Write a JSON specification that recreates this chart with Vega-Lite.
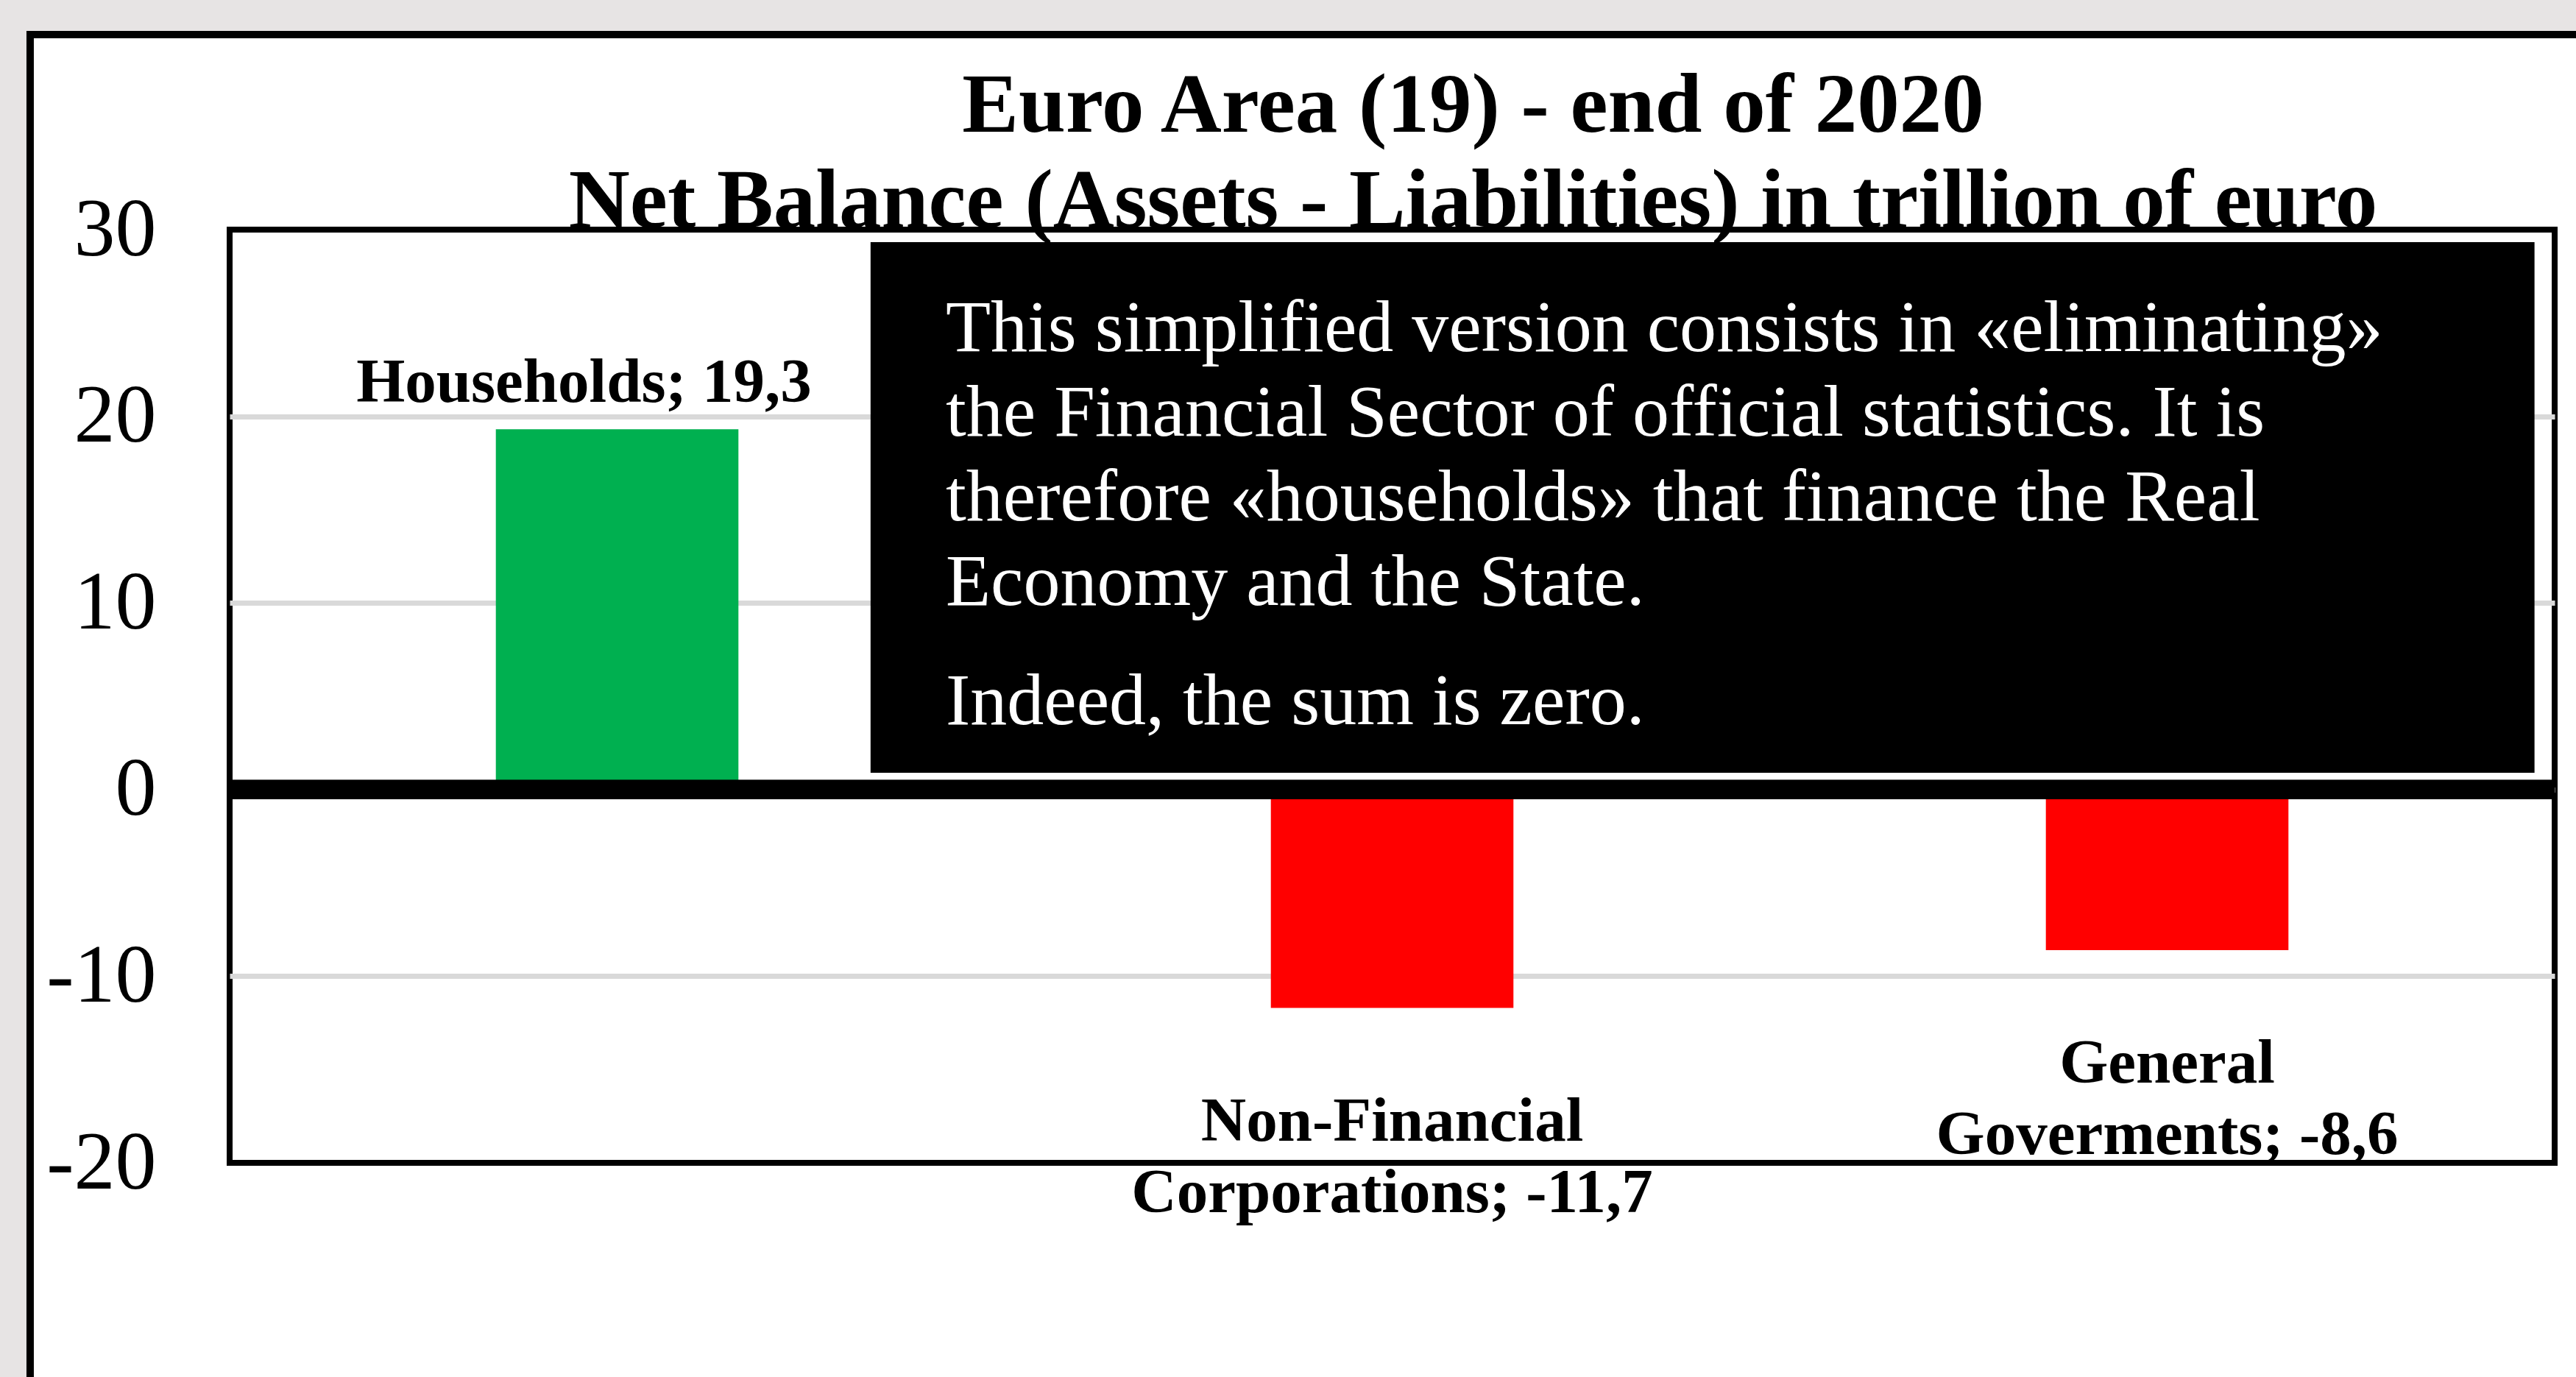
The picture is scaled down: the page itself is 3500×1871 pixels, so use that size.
{
  "$schema": "https://vega.github.io/schema/vega-lite/v6.json",
  "width": 3159,
  "height": 1268,
  "autosize": "none",
  "padding": {"left": 312, "top": 312, "right": 29, "bottom": 291},
  "background": "white",
  "title": {
    "text": ["Euro Area (19) - end of 2020", "Net Balance (Assets - Liabilities) in trillion of euro"],
    "font": "Liberation Serif",
    "fontSize": 115,
    "fontWeight": "bold",
    "color": "black",
    "anchor": "middle",
    "frame": "group",
    "dx": 110,
    "lineHeight": 130,
    "baseline": "alphabetic",
    "offset": -462
  },
  "data": {
    "values": [
      {"sector": "Households", "value": 19.3, "label": "Households; 19,3"},
      {"sector": "Non-Financial Corporations", "value": -11.7, "label": "Non-Financial|Corporations; -11,7"},
      {"sector": "General Goverments", "value": -8.6, "label": "General|Goverments; -8,6"}
    ]
  },
  "layer": [
    {
      "data": {"values": [{}]},
      "mark": {"type": "rect", "fill": null, "stroke": "#e7e4e4", "strokeWidth": 80},
      "encoding": {
        "x": {"datum": -0.3001, "type": "quantitative", "scale": {"domain": [0, 3]}, "axis": null},
        "x2": {"datum": 3.6},
        "y": {"datum": 42.22, "type": "quantitative"},
        "y2": {"datum": -45}
      }
    },
    {
      "data": {"values": [{}]},
      "mark": {"type": "rect", "fill": null, "stroke": "black", "strokeWidth": 10},
      "encoding": {
        "x": {"datum": -0.2574, "type": "quantitative", "scale": {"domain": [0, 3]}, "axis": null},
        "x2": {"datum": 3.5},
        "y": {"datum": 40.45, "type": "quantitative"},
        "y2": {"datum": -40}
      }
    },
    {
      "mark": {"type": "bar", "width": {"band": 0.313}},
      "encoding": {
        "x": {"field": "sector", "type": "nominal", "sort": null, "scale": {"domain": ["Households", "Non-Financial Corporations", "General Goverments"], "paddingInner": 0, "paddingOuter": 0}, "axis": null},
        "y": {
          "field": "value",
          "type": "quantitative",
          "scale": {"domain": [-20, 30], "nice": false, "zero": false},
          "axis": {
            "title": null,
            "values": [-20, -10, 0, 10, 20, 30],
            "labelExpr": "'' + datum.value",
            "domain": false,
            "ticks": false,
            "tickSize": 0,
            "labelPadding": 100,
            "labelFont": "Liberation Serif",
            "labelFontSize": 112,
            "labelColor": "black",
            "labelOverlap": false,
            "grid": true,
            "gridColor": {"condition": {"test": "datum.value == 30 || datum.value == -20", "value": "transparent"}, "value": "#d9d9d9"},
            "gridWidth": 7
          }
        },
        "y2": {"datum": 0},
        "color": {"condition": {"test": "datum.value > 0", "value": "#00B050"}, "value": "#FF0000"}
      }
    },
    {
      "mark": {"type": "rule", "color": "black", "strokeWidth": 26},
      "encoding": {"y": {"datum": 0, "type": "quantitative"}}
    },
    {
      "transform": [{"filter": "datum.value > 0"}],
      "mark": {"type": "text", "font": "Liberation Serif", "fontSize": 85, "fontWeight": "bold", "color": "black", "align": "center", "baseline": "alphabetic", "dy": -37, "dx": -45},
      "encoding": {
        "x": {"field": "sector", "type": "nominal", "sort": null, "scale": {"domain": ["Households", "Non-Financial Corporations", "General Goverments"], "paddingInner": 0, "paddingOuter": 0}, "axis": null},
        "y": {"field": "value", "type": "quantitative"},
        "text": {"field": "label", "type": "nominal"}
      }
    },
    {
      "transform": [{"filter": "datum.value < 0"}],
      "mark": {"type": "text", "font": "Liberation Serif", "fontSize": 85, "fontWeight": "bold", "color": "black", "align": "center", "baseline": "alphabetic", "dy": 180, "lineBreak": "|", "lineHeight": 97},
      "encoding": {
        "x": {"field": "sector", "type": "nominal", "sort": null, "scale": {"domain": ["Households", "Non-Financial Corporations", "General Goverments"], "paddingInner": 0, "paddingOuter": 0}, "axis": null},
        "y": {"field": "value", "type": "quantitative"},
        "text": {"field": "label", "type": "nominal"}
      }
    },
    {
      "data": {"values": [{}]},
      "mark": {"type": "rect", "color": "black"},
      "encoding": {
        "x": {"datum": 0.827, "type": "quantitative", "scale": {"domain": [0, 3]}, "axis": null},
        "x2": {"datum": 2.974},
        "y": {"datum": 29.33, "type": "quantitative"},
        "y2": {"datum": 0.9}
      }
    },
    {
      "data": {"values": [
        {"note": "This simplified version consists in «eliminating»|the Financial Sector of official statistics. It is|therefore «households» that finance the Real|Economy and the State.", "at": 23.49},
        {"note": "Indeed, the sum is zero.", "at": 3.5}
      ]},
      "mark": {"type": "text", "font": "Liberation Serif", "fontSize": 100, "color": "white", "align": "left", "baseline": "alphabetic", "lineBreak": "|", "lineHeight": 115},
      "encoding": {
        "x": {"datum": 0.924, "type": "quantitative", "scale": {"domain": [0, 3]}, "axis": null},
        "y": {"field": "at", "type": "quantitative"},
        "text": {"field": "note", "type": "nominal"}
      }
    }
  ],
  "resolve": {"scale": {"x": "independent"}},
  "config": {
    "view": {"stroke": "black", "strokeWidth": 8}
  }
}
